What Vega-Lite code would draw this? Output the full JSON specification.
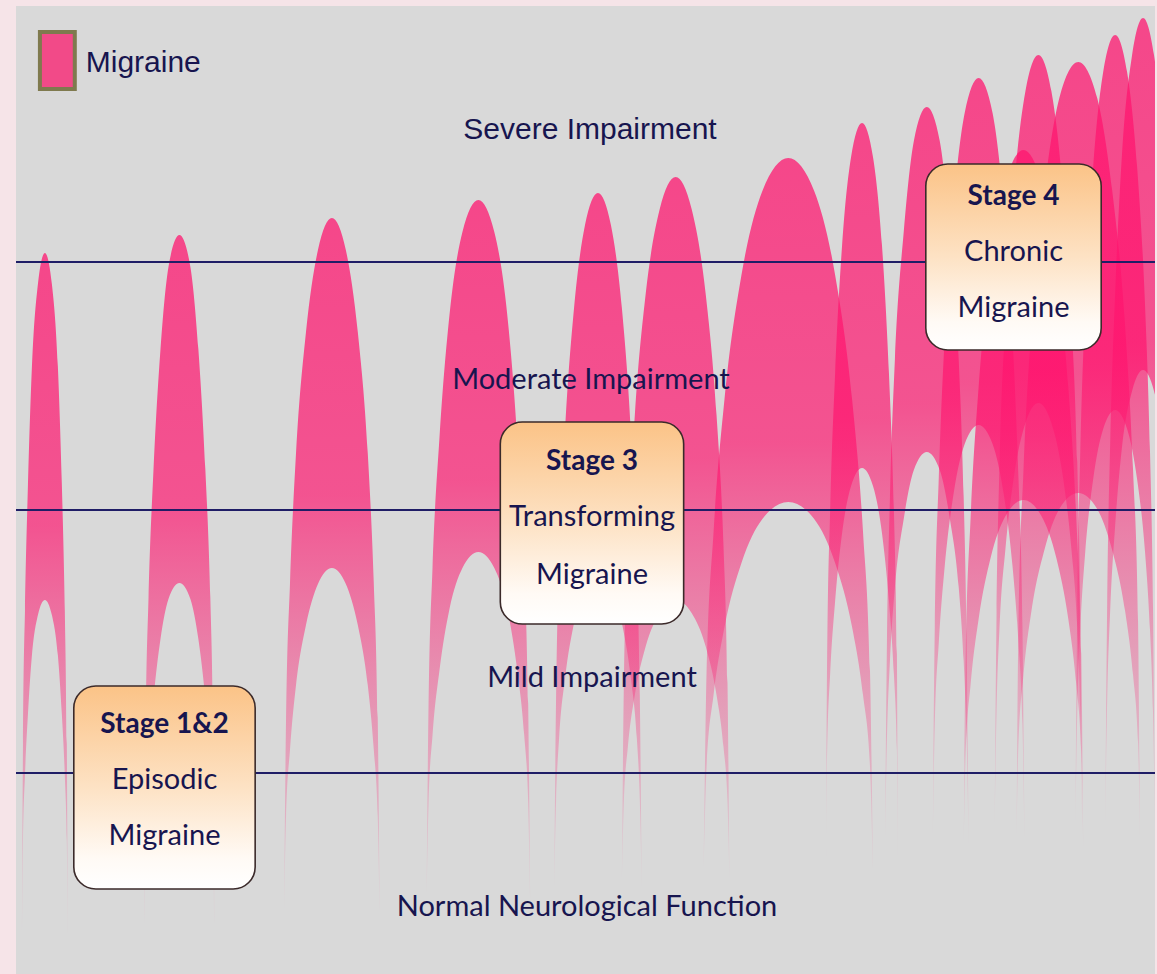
{
  "$schema": "https://vega.github.io/schema/vega-lite/v6.json",
  "width": 1157,
  "height": 974,
  "autosize": {"type": "fit", "contains": "padding"},
  "padding": {"left": 14, "top": 6, "right": 0, "bottom": 0},
  "background": "#f6e4e8",
  "config": {"view": {"fill": "#d9d9d9", "stroke": null}},
  "datasets": {
    "arches": [
      {"e":"A1","x":6,"y":39,"y2":39},{"e":"A1","x":7,"y":230,"y2":133},{"e":"A1","x":9,"y":363,"y2":198},{"e":"A1","x":12,"y":490,"y2":260},{"e":"A1","x":16,"y":608,"y2":319},{"e":"A1","x":22,"y":690,"y2":359},{"e":"A1","x":29,"y":721,"y2":374},{"e":"A1","x":36,"y":690,"y2":359},{"e":"A1","x":42,"y":608,"y2":319},{"e":"A1","x":46,"y":490,"y2":260},{"e":"A1","x":49,"y":363,"y2":198},{"e":"A1","x":51,"y":230,"y2":133},{"e":"A1","x":52,"y":39,"y2":39},
      {"e":"A2","x":129,"y":49,"y2":49},{"e":"A2","x":130,"y":242,"y2":145},{"e":"A2","x":133,"y":377,"y2":211},{"e":"A2","x":138,"y":505,"y2":275},{"e":"A2","x":145,"y":625,"y2":335},{"e":"A2","x":153,"y":707,"y2":375},{"e":"A2","x":164,"y":739,"y2":391},{"e":"A2","x":175,"y":707,"y2":375},{"e":"A2","x":183,"y":625,"y2":335},{"e":"A2","x":190,"y":505,"y2":275},{"e":"A2","x":195,"y":377,"y2":211},{"e":"A2","x":198,"y":242,"y2":145},{"e":"A2","x":199,"y":49,"y2":49},
      {"e":"A3","x":269,"y":62,"y2":62},{"e":"A3","x":271,"y":256,"y2":158},{"e":"A3","x":275,"y":392,"y2":225},{"e":"A3","x":281,"y":521,"y2":289},{"e":"A3","x":291,"y":642,"y2":349},{"e":"A3","x":303,"y":724,"y2":390},{"e":"A3","x":317,"y":756,"y2":406},{"e":"A3","x":331,"y":724,"y2":390},{"e":"A3","x":343,"y":642,"y2":349},{"e":"A3","x":353,"y":521,"y2":289},{"e":"A3","x":359,"y":392,"y2":225},{"e":"A3","x":363,"y":256,"y2":158},{"e":"A3","x":365,"y":62,"y2":62},
      {"e":"A4","x":412,"y":74,"y2":74},{"e":"A4","x":414,"y":270,"y2":171},{"e":"A4","x":418,"y":407,"y2":239},{"e":"A4","x":425,"y":537,"y2":304},{"e":"A4","x":435,"y":659,"y2":365},{"e":"A4","x":448,"y":742,"y2":406},{"e":"A4","x":464,"y":774,"y2":422},{"e":"A4","x":480,"y":742,"y2":406},{"e":"A4","x":493,"y":659,"y2":365},{"e":"A4","x":503,"y":537,"y2":304},{"e":"A4","x":510,"y":407,"y2":239},{"e":"A4","x":514,"y":270,"y2":171},{"e":"A4","x":516,"y":74,"y2":74},
      {"e":"A5","x":540,"y":84,"y2":84},{"e":"A5","x":542,"y":279,"y2":174},{"e":"A5","x":545,"y":415,"y2":236},{"e":"A5","x":551,"y":545,"y2":296},{"e":"A5","x":560,"y":666,"y2":351},{"e":"A5","x":571,"y":749,"y2":389},{"e":"A5","x":584,"y":781,"y2":404},{"e":"A5","x":597,"y":749,"y2":389},{"e":"A5","x":608,"y":666,"y2":351},{"e":"A5","x":617,"y":545,"y2":296},{"e":"A5","x":623,"y":415,"y2":236},{"e":"A5","x":626,"y":279,"y2":174},{"e":"A5","x":628,"y":84,"y2":84},
      {"e":"A6","x":608,"y":94,"y2":94},{"e":"A6","x":610,"y":291,"y2":172},{"e":"A6","x":614,"y":428,"y2":227},{"e":"A6","x":621,"y":559,"y2":279},{"e":"A6","x":632,"y":681,"y2":328},{"e":"A6","x":646,"y":765,"y2":361},{"e":"A6","x":662,"y":797,"y2":374},{"e":"A6","x":678,"y":765,"y2":361},{"e":"A6","x":692,"y":681,"y2":328},{"e":"A6","x":703,"y":559,"y2":279},{"e":"A6","x":710,"y":428,"y2":227},{"e":"A6","x":714,"y":291,"y2":172},{"e":"A6","x":716,"y":94,"y2":94},
      {"e":"A7","x":690,"y":104,"y2":104},{"e":"A7","x":693,"y":303,"y2":207},{"e":"A7","x":700,"y":442,"y2":279},{"e":"A7","x":711,"y":575,"y2":347},{"e":"A7","x":728,"y":699,"y2":411},{"e":"A7","x":749,"y":783,"y2":455},{"e":"A7","x":775,"y":816,"y2":472},{"e":"A7","x":801,"y":783,"y2":455},{"e":"A7","x":822,"y":699,"y2":411},{"e":"A7","x":839,"y":575,"y2":347},{"e":"A7","x":850,"y":442,"y2":279},{"e":"A7","x":857,"y":303,"y2":207},{"e":"A7","x":860,"y":104,"y2":104},
      {"e":"A8","x":813,"y":114,"y2":114},{"e":"A8","x":814,"y":320,"y2":224},{"e":"A8","x":817,"y":464,"y2":300},{"e":"A8","x":822,"y":601,"y2":373},{"e":"A8","x":829,"y":729,"y2":441},{"e":"A8","x":838,"y":817,"y2":488},{"e":"A8","x":849,"y":851,"y2":506},{"e":"A8","x":860,"y":817,"y2":488},{"e":"A8","x":869,"y":729,"y2":441},{"e":"A8","x":876,"y":601,"y2":373},{"e":"A8","x":881,"y":464,"y2":300},{"e":"A8","x":884,"y":320,"y2":224},{"e":"A8","x":885,"y":114,"y2":114},
      {"e":"A9","x":872,"y":124,"y2":124},{"e":"A9","x":874,"y":332,"y2":235},{"e":"A9","x":877,"y":477,"y2":313},{"e":"A9","x":882,"y":615,"y2":387},{"e":"A9","x":891,"y":744,"y2":456},{"e":"A9","x":901,"y":833,"y2":504},{"e":"A9","x":914,"y":867,"y2":522},{"e":"A9","x":927,"y":833,"y2":504},{"e":"A9","x":937,"y":744,"y2":456},{"e":"A9","x":946,"y":615,"y2":387},{"e":"A9","x":951,"y":477,"y2":313},{"e":"A9","x":954,"y":332,"y2":235},{"e":"A9","x":956,"y":124,"y2":124},
      {"e":"A10","x":920,"y":134,"y2":134},{"e":"A10","x":922,"y":347,"y2":250},{"e":"A10","x":926,"y":496,"y2":331},{"e":"A10","x":932,"y":638,"y2":408},{"e":"A10","x":941,"y":770,"y2":481},{"e":"A10","x":952,"y":861,"y2":530},{"e":"A10","x":966,"y":896,"y2":549},{"e":"A10","x":980,"y":861,"y2":530},{"e":"A10","x":991,"y":770,"y2":481},{"e":"A10","x":1000,"y":638,"y2":408},{"e":"A10","x":1006,"y":496,"y2":331},{"e":"A10","x":1010,"y":347,"y2":250},{"e":"A10","x":1012,"y":134,"y2":134},
      {"e":"R0","x":951,"y":124,"y2":124},{"e":"R0","x":953,"y":320,"y2":222},{"e":"R0","x":958,"y":457,"y2":290},{"e":"R0","x":966,"y":587,"y2":355},{"e":"R0","x":978,"y":709,"y2":416},{"e":"R0","x":993,"y":792,"y2":458},{"e":"R0","x":1011,"y":824,"y2":474},{"e":"R0","x":1029,"y":792,"y2":458},{"e":"R0","x":1044,"y":709,"y2":416},{"e":"R0","x":1056,"y":587,"y2":355},{"e":"R0","x":1064,"y":457,"y2":290},{"e":"R0","x":1069,"y":320,"y2":222},{"e":"R0","x":1071,"y":124,"y2":124},
      {"e":"R1","x":982,"y":144,"y2":144},{"e":"R1","x":984,"y":361,"y2":264},{"e":"R1","x":987,"y":512,"y2":347},{"e":"R1","x":993,"y":656,"y2":426},{"e":"R1","x":1002,"y":791,"y2":501},{"e":"R1","x":1013,"y":883,"y2":551},{"e":"R1","x":1026,"y":919,"y2":571},{"e":"R1","x":1039,"y":883,"y2":551},{"e":"R1","x":1050,"y":791,"y2":501},{"e":"R1","x":1059,"y":656,"y2":426},{"e":"R1","x":1065,"y":512,"y2":347},{"e":"R1","x":1068,"y":361,"y2":264},{"e":"R1","x":1070,"y":144,"y2":144},
      {"e":"R2","x":1004,"y":134,"y2":134},{"e":"R2","x":1006,"y":352,"y2":231},{"e":"R2","x":1011,"y":504,"y2":299},{"e":"R2","x":1019,"y":648,"y2":363},{"e":"R2","x":1032,"y":784,"y2":424},{"e":"R2","x":1047,"y":876,"y2":465},{"e":"R2","x":1066,"y":912,"y2":481},{"e":"R2","x":1085,"y":876,"y2":465},{"e":"R2","x":1100,"y":784,"y2":424},{"e":"R2","x":1113,"y":648,"y2":363},{"e":"R2","x":1121,"y":504,"y2":299},{"e":"R2","x":1126,"y":352,"y2":231},{"e":"R2","x":1128,"y":134,"y2":134},
      {"e":"R3","x":1063,"y":144,"y2":144},{"e":"R3","x":1065,"y":367,"y2":262},{"e":"R3","x":1068,"y":522,"y2":344},{"e":"R3","x":1073,"y":669,"y2":422},{"e":"R3","x":1081,"y":808,"y2":495},{"e":"R3","x":1091,"y":902,"y2":545},{"e":"R3","x":1103,"y":939,"y2":564},{"e":"R3","x":1115,"y":902,"y2":545},{"e":"R3","x":1125,"y":808,"y2":495},{"e":"R3","x":1133,"y":669,"y2":422},{"e":"R3","x":1138,"y":522,"y2":344},{"e":"R3","x":1141,"y":367,"y2":262},{"e":"R3","x":1143,"y":144,"y2":144},
      {"e":"R4","x":1093,"y":144,"y2":144},{"e":"R4","x":1095,"y":371,"y2":273},{"e":"R4","x":1098,"y":530,"y2":363},{"e":"R4","x":1103,"y":681,"y2":448},{"e":"R4","x":1110,"y":822,"y2":528},{"e":"R4","x":1120,"y":919,"y2":583},{"e":"R4","x":1131,"y":956,"y2":604},{"e":"R4","x":1142,"y":919,"y2":583},{"e":"R4","x":1152,"y":822,"y2":528},{"e":"R4","x":1159,"y":681,"y2":448},{"e":"R4","x":1164,"y":530,"y2":363},{"e":"R4","x":1167,"y":371,"y2":273},{"e":"R4","x":1169,"y":144,"y2":144}
    ],
    "levels": [{"y": 712}, {"y": 464}, {"y": 201}],
    "labels": [
      {"t": "Moderate Impairment", "x": 577, "y": 594},
      {"t": "Mild Impairment", "x": 578, "y": 296},
      {"t": "Normal Neurological Function", "x": 573, "y": 67}
    ],
    "top": [{"t": "Severe Impairment", "x": 576, "y": 844}],
    "legend": [{"t": "Migraine", "x": 24, "x2": 59, "y": 942, "y2": 885, "tx": 70, "ty": 911}],
    "boxes": [
      {"x": 58, "x2": 240, "y": 288, "y2": 85},
      {"x": 486, "x2": 670, "y": 552, "y2": 350},
      {"x": 913, "x2": 1089, "y": 810, "y2": 624}
    ],
    "boxtitles": [
      {"t": "Stage 1&2", "x": 149, "y": 249},
      {"t": "Stage 3", "x": 578, "y": 512},
      {"t": "Stage 4", "x": 1001, "y": 777}
    ],
    "boxlines": [
      {"t": "Episodic", "x": 149, "y": 194},
      {"t": "Migraine", "x": 149, "y": 138},
      {"t": "Transforming", "x": 578, "y": 457},
      {"t": "Migraine", "x": 578, "y": 399},
      {"t": "Chronic", "x": 1001, "y": 722},
      {"t": "Migraine", "x": 1001, "y": 666}
    ]
  },
  "layer": [
    {
      "data": {"name": "arches"},
      "mark": {
        "type": "area",
        "interpolate": "monotone",
        "clip": true,
        "color": {
          "gradient": "linear", "x1": 0, "y1": 0, "x2": 0, "y2": 1,
          "stops": [
            {"offset": 0, "color": "rgba(255,20,110,0.74)"},
            {"offset": 0.4, "color": "rgba(255,20,110,0.68)"},
            {"offset": 0.65, "color": "rgba(250,40,120,0.45)"},
            {"offset": 0.85, "color": "rgba(245,60,130,0.27)"},
            {"offset": 1, "color": "rgba(245,80,140,0.06)"}
          ]
        }
      },
      "encoding": {
        "x": {"field": "x", "type": "quantitative", "scale": {"domain": [0, 1143], "nice": false, "zero": false}, "axis": null},
        "y": {"field": "y", "type": "quantitative", "scale": {"domain": [0, 968], "nice": false, "zero": false}, "axis": null},
        "y2": {"field": "y2"},
        "detail": {"field": "e", "type": "nominal"}
      }
    },
    {
      "data": {"name": "levels"},
      "mark": {"type": "rule", "color": "#1f1d66", "strokeWidth": 2.2},
      "encoding": {
        "y": {"field": "y", "type": "quantitative"}
      }
    },
    {
      "data": {"name": "boxes"},
      "mark": {
        "type": "rect",
        "cornerRadius": 22,
        "stroke": "#3b2a2a",
        "strokeWidth": 1.6,
        "fill": {
          "gradient": "linear", "x1": 0, "y1": 0, "x2": 0, "y2": 1,
          "stops": [
            {"offset": 0, "color": "#fbc387"},
            {"offset": 0.5, "color": "#fde2c4"},
            {"offset": 0.85, "color": "#fffaf5"},
            {"offset": 1, "color": "#ffffff"}
          ]
        }
      },
      "encoding": {
        "x": {"field": "x", "type": "quantitative"},
        "x2": {"field": "x2"},
        "y": {"field": "y", "type": "quantitative"},
        "y2": {"field": "y2"}
      }
    },
    {
      "data": {"name": "legend"},
      "mark": {"type": "rect", "fill": "#f24a88", "stroke": "#7f7a4e", "strokeWidth": 4},
      "encoding": {
        "x": {"field": "x", "type": "quantitative"},
        "x2": {"field": "x2"},
        "y": {"field": "y", "type": "quantitative"},
        "y2": {"field": "y2"}
      }
    },
    {
      "data": {"name": "legend"},
      "mark": {"type": "text", "align": "left", "baseline": "middle", "font": "Liberation Sans", "fontSize": 30, "color": "#17154f"},
      "encoding": {
        "x": {"field": "tx", "type": "quantitative"},
        "y": {"field": "ty", "type": "quantitative"},
        "text": {"field": "t"}
      }
    },
    {
      "data": {"name": "top"},
      "mark": {"type": "text", "align": "center", "baseline": "middle", "font": "Liberation Sans", "fontSize": 30, "color": "#17154f"},
      "encoding": {
        "x": {"field": "x", "type": "quantitative"},
        "y": {"field": "y", "type": "quantitative"},
        "text": {"field": "t"}
      }
    },
    {
      "data": {"name": "labels"},
      "mark": {"type": "text", "align": "center", "baseline": "middle", "font": "Lato", "fontSize": 29, "color": "#17154f"},
      "encoding": {
        "x": {"field": "x", "type": "quantitative"},
        "y": {"field": "y", "type": "quantitative"},
        "text": {"field": "t"}
      }
    },
    {
      "data": {"name": "boxtitles"},
      "mark": {"type": "text", "align": "center", "baseline": "middle", "font": "Lato", "fontWeight": "bold", "fontSize": 28, "color": "#17154f"},
      "encoding": {
        "x": {"field": "x", "type": "quantitative"},
        "y": {"field": "y", "type": "quantitative"},
        "text": {"field": "t"}
      }
    },
    {
      "data": {"name": "boxlines"},
      "mark": {"type": "text", "align": "center", "baseline": "middle", "font": "Lato", "fontSize": 29, "color": "#17154f"},
      "encoding": {
        "x": {"field": "x", "type": "quantitative"},
        "y": {"field": "y", "type": "quantitative"},
        "text": {"field": "t"}
      }
    }
  ]
}
